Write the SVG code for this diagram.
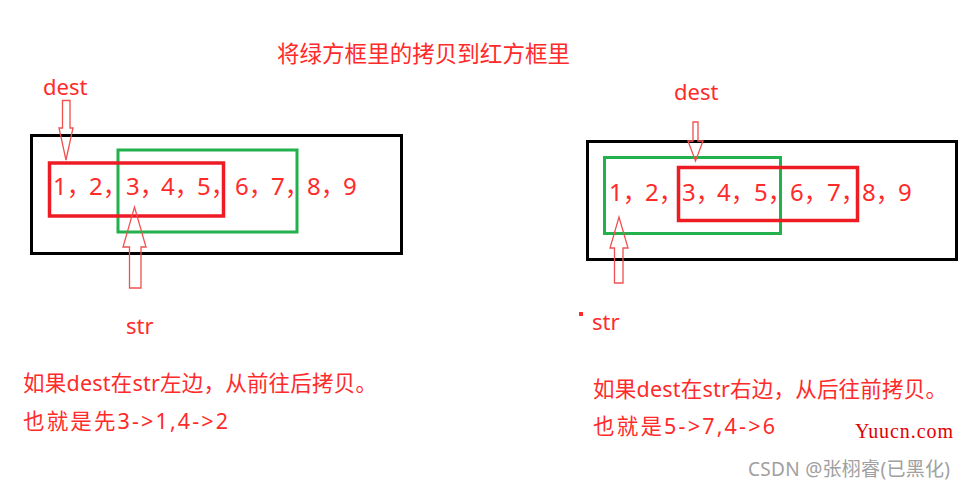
<svg xmlns="http://www.w3.org/2000/svg" width="965" height="488" viewBox="0 0 965 488">
<style>
.t{font-family:"Noto Sans","Noto Sans CJK SC",sans-serif;fill:#ff2a2a}
.num{font-size:24px}
.lbl{font-size:22px}
.note{font-size:21.5px}
.box{fill:none;stroke:#000;stroke-width:3}
.red{fill:none;stroke:#ed1c24;stroke-width:3.5}
.green{fill:none;stroke:#22b14c;stroke-width:3}
.arr{fill:none;stroke:#f05050;stroke-width:1.3;stroke-linejoin:miter}
</style>
<rect width="965" height="488" fill="#fff"/>
<text id="title" class="t" x="277" y="62" font-size="22.5px" textLength="293">将绿方框里的拷贝到红方框里</text>

<g id="left">
  <rect id="left-array" class="box" x="31.5" y="135.5" width="370" height="118"/>
  <rect id="left-green" class="green" x="118" y="150" width="179" height="82"/>
  <rect id="left-red" class="red" x="49.5" y="163" width="174" height="53"/>
  <text class="t num" y="195"><tspan x="53">1，</tspan><tspan x="89">2，</tspan><tspan x="126">3，</tspan><tspan x="161">4，</tspan><tspan x="197">5，</tspan><tspan x="235">6，</tspan><tspan x="271">7，</tspan><tspan x="307">8，</tspan><tspan x="343">9</tspan></text>
  <text id="left-dest" class="t lbl" x="43" y="95">dest</text>
  <text id="left-str" class="t lbl" x="126" y="334">str</text>
  <text id="left-note1" class="t note" x="23" y="391" textLength="354">如果dest在str左边，从前往后拷贝。</text>
  <text id="left-note2" class="t note" x="23" y="429" textLength="205">也就是先3-&gt;1,4-&gt;2</text>
</g>

<g id="right">
  <rect id="right-array" class="box" x="587.5" y="141.5" width="369" height="118"/>
  <rect id="right-green" class="green" x="604.5" y="157.5" width="176" height="76"/>
  <rect id="right-red" class="red" x="678.5" y="167.5" width="179" height="53"/>
  <text class="t num" y="201"><tspan x="609">1，</tspan><tspan x="645">2，</tspan><tspan x="682">3，</tspan><tspan x="717">4，</tspan><tspan x="754">5，</tspan><tspan x="790">6，</tspan><tspan x="827">7，</tspan><tspan x="862">8，</tspan><tspan x="898">9</tspan></text>
  <text id="right-dest" class="t lbl" x="674" y="100">dest</text>
  <rect id="dot" x="579" y="312" width="4" height="4" fill="#ff2a2a"/>
  <text id="right-str" class="t lbl" x="592" y="330">str</text>
  <text id="right-note1" class="t note" x="593" y="397" textLength="354">如果dest在str右边，从后往前拷贝。</text>
  <text id="right-note2" class="t note" x="593" y="434" textLength="182">也就是5-&gt;7,4-&gt;6</text>
</g>

<g id="connectors">
  <path class="arr" d="M62.5,100.5 H70 V128 H73 L66,160 L59,128 H62.5 Z"/>
  <path class="arr" d="M129.5,288 H141 V247 H146 L134.5,207 L123,247 H129.5 Z"/>
  <path class="arr" d="M693,122 H698 V141 H703 L695.5,161 L688,141 H693 Z"/>
  <path class="arr" d="M614.5,283 H623 V248 H628 L619,217 L610,248 H614.5 Z"/>
</g>

<text id="watermark1" x="855" y="438" font-family="Liberation Serif,serif" font-size="20px" fill="#e00000" textLength="98">Yuucn.com</text>
<text id="watermark2" x="748" y="476" font-family="Noto Sans,Noto Sans CJK SC,sans-serif" font-size="19px" fill="#a0a0a0" textLength="202">CSDN @张栩睿(已黑化)</text>
</svg>
